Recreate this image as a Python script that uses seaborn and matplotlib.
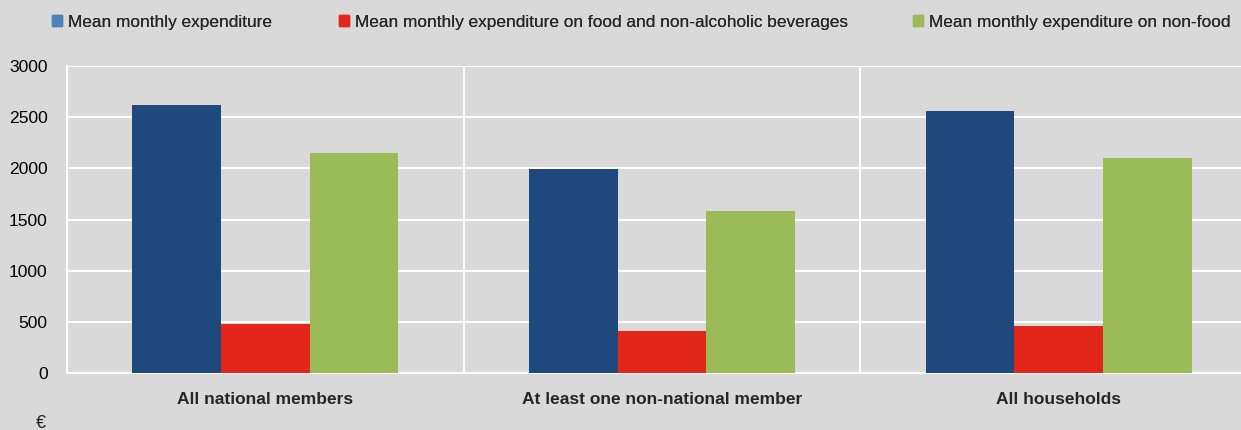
import matplotlib
matplotlib.use("Agg")
import matplotlib.pyplot as plt
import matplotlib.patches as mpatches
import seaborn as sns
import pandas as pd

categories = ["All national members", "At least one non-national member", "All households"]
series = ["Mean monthly expenditure",
          "Mean monthly expenditure on food and non-alcoholic beverages",
          "Mean monthly expenditure on non-food"]
total_exp = [2620, 1994, 2561]
food_exp = [479, 413, 462]
nonfood_exp = [2150, 1583, 2098]
yticks = [0, 500, 1000, 1500, 2000, 2500, 3000]

bar_colors = ["#1F497D", "#E3261A", "#9BBB59"]
legend_colors = ["#4F81BD", "#E3261A", "#9BBB59"]
bg = "#D9D9D9"

rows = []
for s, vals in zip(series, [total_exp, food_exp, nonfood_exp]):
    for c, v in zip(categories, vals):
        rows.append({"category": c, "series": s, "value": v})
df = pd.DataFrame(rows)

sns.set_theme(style="white")
plt.rcParams["font.family"] = ["Liberation Sans", "DejaVu Sans"]

fig = plt.figure(figsize=(12.41, 4.30), dpi=100, facecolor=bg)
ax = fig.add_axes([67/1241, 1-373/430, 1190/1241, 307/430])
ax.set_facecolor(bg)

sns.barplot(data=df, x="category", y="value", hue="series", order=categories,
            hue_order=series, palette=bar_colors, width=0.67, saturation=1,
            ax=ax, legend=False, linewidth=0, zorder=3)

ax.set_xlim(-0.5, 2.5)
ax.set_ylim(0, 3000)
ax.set_yticks(yticks)
ax.set_yticklabels([str(t) for t in yticks], fontsize=12.6)
ax.set_xticks(range(len(categories)))
ax.set_xticklabels(categories, fontsize=12.5, fontweight="bold")
ax.set_xticks([0.5, 1.5], minor=True)
ax.set_xlabel("")
ax.set_ylabel("")

ax.grid(axis="y", color="white", linewidth=1.5, zorder=0)
ax.grid(axis="x", which="minor", color="white", linewidth=1.5, zorder=0)
ax.set_axisbelow(True)
ax.tick_params(axis="y", length=5, width=1.5, pad=9, colors="black")
ax.tick_params(axis="y", color="white")
ax.tick_params(axis="x", which="major", length=0, pad=14)
ax.tick_params(axis="x", which="minor", length=0)

for side in ["top", "right"]:
    ax.spines[side].set_visible(False)
for side in ["left", "bottom"]:
    ax.spines[side].set_color("white")
    ax.spines[side].set_linewidth(1.5)

# legend entries placed individually (uneven spacing like original)
x_positions = [52/1241, 339/1241, 913/1241]
for lab, col, xp in zip(series, legend_colors, x_positions):
    h = mpatches.Patch(color=col, label=lab)
    leg = fig.legend(handles=[h], loc="center left", bbox_to_anchor=(xp, 1-22/430),
                     frameon=False, fontsize=12.45, handlelength=0.6, handleheight=0.6,
                     handletextpad=0.3, borderpad=0, borderaxespad=0)
    fig.add_artist(leg)

fig.text(36/1241, 1-423/430, "€", fontsize=13, va="center", ha="left")

fig.savefig("out.png", dpi=100, facecolor=bg)
